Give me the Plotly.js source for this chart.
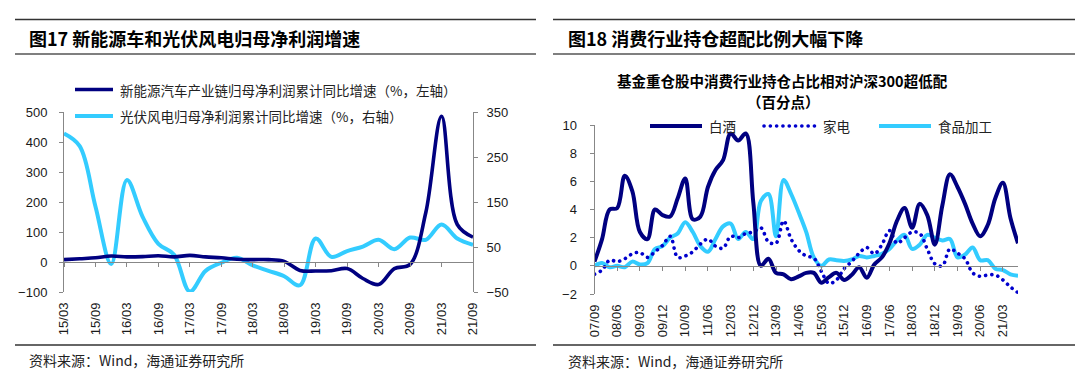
<!DOCTYPE html>
<html>
<head>
<meta charset="utf-8">
<script src="https://cdn.plot.ly/plotly-3.0.1.min.js"></script>
<style>
html,body{margin:0;padding:0;background:#ffffff;}
#chart{width:1080px;height:389px;}
</style>
</head>
<body>
<div id="chart"></div>
<script>
// ---------- Figure 17 data (quarterly, cumulative YoY %) ----------
const leftQuarters = ["15/03","15/06","15/09","15/12","16/03","16/06","16/09","16/12","17/03","17/06","17/09","17/12","18/03","18/06","18/09","18/12","19/03","19/06","19/09","19/12","20/03","20/06","20/09","20/12","21/03","21/06","21/09"];
const leftTickLabels = ["15/03","15/09","16/03","16/09","17/03","17/09","18/03","18/09","19/03","19/09","20/03","20/09","21/03","21/09"];
const nevProfitGrowth = [8, 11, 14, 20, 17, 18, 21, 17, 22, 17, 14, 9, 8, 8, 2, -28, -30, -29, -22, -55, -75, -22, -8, 165, 486, 125, 83];
const pvWindProfitGrowth = [302, 274, 140, 12, 199, 117, 57, 33, -49, -3, 15, 26, 9, -3, -15, -35, 69, 28, 41, 51, 66, 45, 71, 66, 100, 69, 55];
const leftNames = ["新能源汽车产业链归母净利润累计同比增速（%，左轴）", "光伏风电归母净利润累计同比增速（%，右轴）"];

// ---------- Figure 18 data (quarterly, overweight vs CSI300, pct points) ----------
const rightQuarters = ["07/09","07/12","08/03","08/06","08/09","08/12","09/03","09/06","09/09","09/12","10/03","10/06","10/09","10/12","11/03","11/06","11/09","11/12","12/03","12/06","12/09","12/12","13/03","13/06","13/09","13/12","14/03","14/06","14/09","14/12","15/03","15/06","15/09","15/12","16/03","16/06","16/09","16/12","17/03","17/06","17/09","17/12","18/03","18/06","18/09","18/12","19/03","19/06","19/09","19/12","20/03","20/06","20/09","20/12","21/03","21/06","21/09"];
const rightTickLabels = ["07/09","08/06","09/03","09/12","10/09","11/06","12/03","12/12","13/09","14/06","15/03","15/12","16/09","17/06","18/03","18/12","19/09","20/06","21/03"];
const baijiu = [0.3,1.9,4.0,4.1,6.4,5.3,2.4,1.9,4.0,3.6, 3.5,4.8,6.2,3.3,3.5,5.6,6.8,7.5,9.4,8.9, 9.4,4.5,0.0,0.5,-0.5,-0.6,-0.95,-0.75,-0.5,-0.5, -1.2,-0.8,-0.5,-1.0,-0.65,-0.1,-0.85,0.1,0.6,1.6, 3.2,4.1,2.7,4.4,3.6,1.5,4.3,6.5,5.6,4.4, 3.0,2.1,2.9,4.8,5.9,3.4,1.6];
const appliance = [-0.6,-0.3,0.4,0.3,0.5,0.85,0.95,0.6,1.0,1.45, 2.1,0.6,0.7,1.0,1.55,1.9,1.4,1.25,2.1,2.0, 2.3,2.4,2.7,1.7,1.6,3.2,1.9,1.1,0.7,0.55, -0.4,-1.25,-1.0,-0.2,0.3,0.9,1.3,0.85,1.5,2.5, 1.6,2.0,2.4,2.3,1.2,0.15,0.0,1.2,0.9,0.5, -0.5,-0.75,-0.65,-0.65,-1.0,-1.5,-1.9];
const foodProcessing = [0.0,0.2,-0.1,0.0,-0.1,0.3,0.1,0.2,1.2,1.4, 2.0,2.3,3.1,2.4,1.4,1.0,1.9,2.8,3.0,1.9, 2.4,1.9,4.6,5.1,2.1,6.1,5.1,3.8,2.4,0.6, 0.0,0.45,0.4,0.35,0.45,0.7,0.6,0.7,0.85,1.2, 1.8,2.2,1.2,1.5,2.2,2.0,1.8,1.9,0.6,0.8, 1.3,0.4,0.4,-0.2,-0.3,-0.6,-0.7];
const rightNames = ["白酒", "家电", "食品加工"];

// ---------- styling ----------
const W = 1080, H = 389;
const px = v => v / W;
const py = v => 1 - v / H;
const NUM = "Liberation Sans, Arial, Noto Sans CJK SC, sans-serif";
const CJK = "Noto Sans CJK SC, Liberation Sans, sans-serif";
const NAVY = "#000080", SKY = "#33CCFF", BLUE = "#0000CD", AXIS = "#878787";
const DOTS = "0.1px,6.2px";
const tickFont = {family: NUM, size: 13, color: "#1a1a1a"};

const traces = [
  {name: leftNames[1], x: leftQuarters, y: pvWindProfitGrowth, xaxis: "x", yaxis: "y2", type: "scatter", mode: "lines",
   line: {color: SKY, width: 4, shape: "spline", smoothing: 1}, hoverinfo: "skip"},
  {name: leftNames[0], x: leftQuarters, y: nevProfitGrowth, xaxis: "x2", yaxis: "y", type: "scatter", mode: "lines",
   line: {color: NAVY, width: 3.6, shape: "spline", smoothing: 1}, hoverinfo: "skip"},
  {name: rightNames[2], x: rightQuarters, y: foodProcessing, xaxis: "x3", yaxis: "y3", type: "scatter", mode: "lines",
   line: {color: SKY, width: 4, shape: "spline", smoothing: 1}, hoverinfo: "skip"},
  {name: rightNames[1], x: rightQuarters, y: appliance, xaxis: "x3", yaxis: "y3", type: "scatter", mode: "lines",
   line: {color: BLUE, width: 3.6, shape: "spline", smoothing: 1, dash: DOTS}, hoverinfo: "skip"},
  {name: rightNames[0], x: rightQuarters, y: baijiu, xaxis: "x4", yaxis: "y3", type: "scatter", mode: "lines",
   line: {color: NAVY, width: 4, shape: "spline", smoothing: 1}, hoverinfo: "skip"}
];

const L = {x0: 64, x1: 473, top: 112, bottom: 292};   // left plot box (px)
const R = {x0: 594.5, x1: 1018, top: 125, bottom: 294}; // right plot box (px)

const bottomX = (domain, anchor, cats, ticks, n) => ({
  domain: domain, anchor: anchor, type: "category", categoryarray: cats, range: [0, n],
  showline: false, ticks: "", tickmode: "array", tickvals: ticks, ticktext: ticks,
  tickangle: -90, tickfont: tickFont, ticklabelstandoff: 7, showgrid: false, zeroline: false, fixedrange: true
});
const zeroX = (over, pos, cats, ticks, n) => ({
  overlaying: over, anchor: "free", position: pos, type: "category", categoryarray: cats, range: [0, n],
  showline: true, linecolor: AXIS, linewidth: 1, ticks: "outside", ticklen: 4, tickcolor: AXIS, tickwidth: 1,
  tickmode: "array", tickvals: ticks, showticklabels: false, showgrid: false, zeroline: false, fixedrange: true
});
const valY = (extra) => Object.assign({
  showline: true, linecolor: AXIS, linewidth: 1, ticks: "outside", ticklen: 4, tickcolor: AXIS, tickwidth: 1,
  tickfont: tickFont, showgrid: false, zeroline: false, fixedrange: true
}, extra);

const hline = (x0, x1, y, color, w) => ({type: "line", xref: "paper", yref: "paper",
  x0: px(x0), x1: px(x1), y0: py(y), y1: py(y), line: {color: color, width: w}});
const legLine = (x0, x1, y, color, w, dash) => ({type: "line", xref: "paper", yref: "paper",
  x0: px(x0), x1: px(x1), y0: py(y), y1: py(y), line: {color: color, width: w, dash: dash || "solid"}});
const txt = (s, x, y, size, opts) => Object.assign({text: s, xref: "paper", yref: "paper", x: px(x), y: py(y),
  xanchor: "left", yanchor: "middle", showarrow: false, font: {family: CJK, size: size, color: "#222"}}, opts || {});

const layout = {
  width: W, height: H, autosize: false,
  margin: {l: 0, r: 0, t: 0, b: 0, pad: 0},
  paper_bgcolor: "#ffffff", plot_bgcolor: "rgba(0,0,0,0)",
  showlegend: false, hovermode: false,
  xaxis: bottomX([px(L.x0), px(L.x1)], "y", leftQuarters, leftTickLabels, 26),
  xaxis2: zeroX("x", py(261.7), leftQuarters, leftTickLabels, 26),
  yaxis: valY({domain: [py(L.bottom), py(L.top)], anchor: "x", range: [-100, 500], tick0: 0, dtick: 100, ticklabelstandoff: 9}),
  yaxis2: valY({overlaying: "y", side: "right", anchor: "x", range: [-50, 350], tick0: -50, dtick: 100, ticklabelstandoff: 6}),
  xaxis3: bottomX([px(R.x0), px(R.x1)], "y3", rightQuarters, rightTickLabels, 56),
  xaxis4: zeroX("x3", py(266), rightQuarters, rightTickLabels, 56),
  yaxis3: valY({domain: [py(R.bottom), py(R.top)], anchor: "x3", range: [-2, 10], tick0: 0, dtick: 2, ticklabelstandoff: 10}),
  shapes: [
    hline(15, 536, 19.5, "#333", 1.3), hline(15, 536, 54, "#555", 1.3), hline(15, 536, 345, "#333", 1.3),
    hline(553, 1075, 19.5, "#333", 1.3), hline(553, 1075, 54, "#555", 1.3), hline(553, 1075, 345, "#333", 1.3),
    legLine(75, 113, 89.5, NAVY, 3.6), legLine(75, 113, 116, SKY, 4),
    legLine(650, 702, 126, NAVY, 4), legLine(764, 816, 126, BLUE, 3.6, DOTS), legLine(879, 931, 126, SKY, 4)
  ],
  annotations: [
    txt("图17 新能源车和光伏风电归母净利润增速", 27, 38, 18, {font: {family: CJK, size: 18, color: "#000", weight: "bold"}}),
    txt("图18 消费行业持仓超配比例大幅下降", 566, 38, 18, {font: {family: CJK, size: 18, color: "#000", weight: "bold"}}),
    txt(leftNames[0], 118, 89.5, 13.5),
    txt(leftNames[1], 118, 116, 13.5),
    txt("基金重仓股中消费行业持仓占比相对沪深300超低配", 782, 80, 14.5, {xanchor: "center", font: {family: CJK, size: 14.5, color: "#000", weight: "bold"}}),
    txt("（百分点）", 783, 101, 14.5, {xanchor: "center", font: {family: CJK, size: 14.5, color: "#000", weight: "bold"}}),
    txt(rightNames[0], 707, 126, 13.5),
    txt(rightNames[1], 821, 126, 13.5),
    txt(rightNames[2], 936, 126, 13.5),
    txt("资料来源：Wind，海通证券研究所", 27, 360, 14),
    txt("资料来源：Wind，海通证券研究所", 566, 361, 14)
  ]
};

function roundDots() {
  document.querySelectorAll("#chart path").forEach(function (p) {
    const d = p.style.strokeDasharray;
    if (d && d !== "none") { p.style.strokeLinecap = "round"; }
  });
}

Plotly.newPlot("chart", traces, layout, {staticPlot: true, displayModeBar: false}).then(function (gd) {
  roundDots();
  if (gd.on) gd.on("plotly_afterplot", roundDots);
});
</script>
</body>
</html>
